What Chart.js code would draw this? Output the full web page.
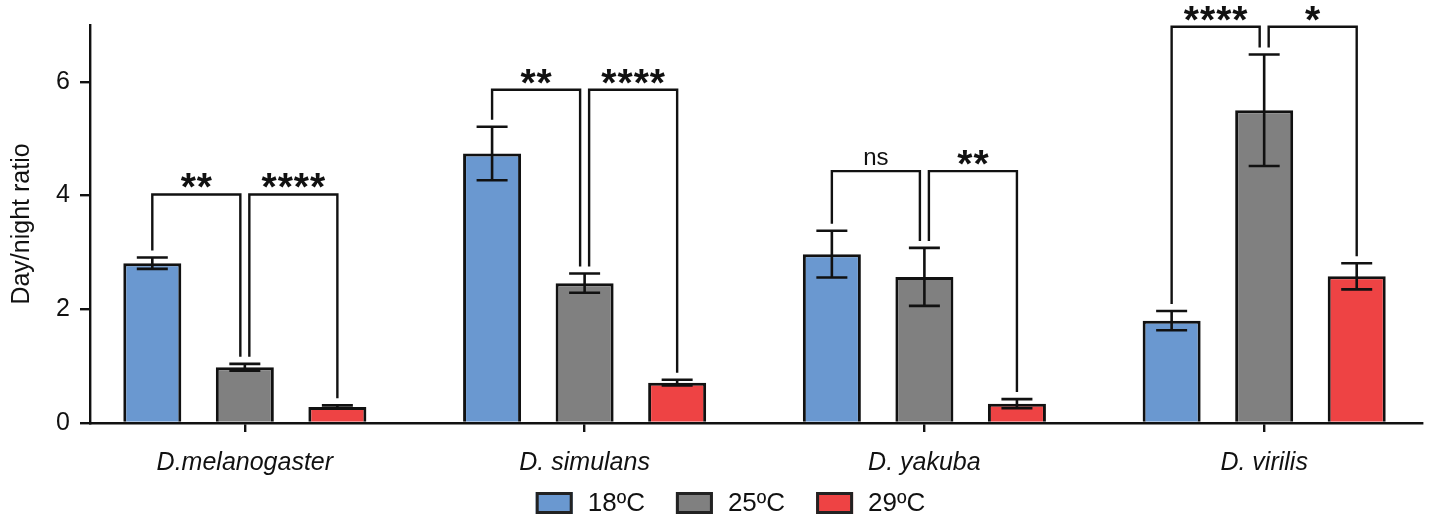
<!DOCTYPE html>
<html>
<head>
<meta charset="utf-8">
<title>Day/night ratio by species and temperature</title>
<script src="https://cdn.jsdelivr.net/npm/chart.js@4.4.1/dist/chart.umd.min.js"></script>
<style>
  html, body { margin: 0; padding: 0; background: #fff; }
  canvas { display: block; }
</style>
</head>
<body>
<canvas id="chart" width="1434" height="523"></canvas>
<script>
// Species on the x axis and rearing temperatures as series
const species = ['D.melanogaster', 'D. simulans', 'D. yakuba', 'D. virilis'];
const temperatures = ['18ºC', '25ºC', '29ºC'];

// Mean day/night activity ratio per species
const ratio18 = [2.81, 4.74, 2.97, 1.80];
const ratio25 = [0.98, 2.46, 2.57, 5.50];
const ratio29 = [0.28, 0.71, 0.34, 2.58];

// Error (± SEM) per bar
const sem18 = [0.10, 0.47, 0.41, 0.17];
const sem25 = [0.06, 0.17, 0.51, 0.98];
const sem29 = [0.03, 0.05, 0.08, 0.23];

const yTicks = [0, 2, 4, 6];

// Pairwise comparisons: species index, first/second temperature index, bracket level, significance
const compSpecies = [0, 0, 1, 1, 2, 2, 3, 3];
const compFrom    = [0, 1, 0, 1, 0, 1, 0, 1];
const compTo      = [1, 2, 1, 2, 1, 2, 1, 2];
const compLevel   = [4.02, 4.02, 5.86, 5.86, 4.43, 4.43, 6.97, 6.97];
const compLabel   = ['**', '****', '**', '****', 'ns', '**', '****', '*'];

const FONT = "'Liberation Sans', Arial, Helvetica, sans-serif";
const INK = '#111111';
const fills = ['rgb(106,152,208)', 'rgb(128,128,128)', 'rgb(238,67,68)'];

function seriesPoints(values) {
  return values.map((v, i) => ({ x: i, y: v }));
}

// Error bars with caps, drawn on top of the bars
const errorBars = {
  id: 'errorBars',
  afterDatasetsDraw(chart) {
    const ctx = chart.ctx;
    const y = chart.scales.y;
    ctx.save();
    ctx.strokeStyle = INK;
    ctx.lineWidth = 2.6;
    ctx.lineCap = 'butt';
    chart.data.datasets.forEach((ds, di) => {
      const meta = chart.getDatasetMeta(di);
      meta.data.forEach((bar, i) => {
        const v = ds.data[i].y, e = ds.sem[i];
        const top = y.getPixelForValue(v + e);
        const bot = y.getPixelForValue(v - e);
        const half = 15.5;
        ctx.beginPath();
        ctx.moveTo(bar.x, top); ctx.lineTo(bar.x, bot);
        ctx.moveTo(bar.x - half, top); ctx.lineTo(bar.x + half, top);
        ctx.moveTo(bar.x - half, bot); ctx.lineTo(bar.x + half, bot);
        ctx.stroke();
      });
    });
    ctx.restore();
  }
};

// Significance brackets between temperature pairs
const brackets = {
  id: 'brackets',
  afterDraw(chart) {
    const ctx = chart.ctx;
    const y = chart.scales.y;
    const ds = chart.data.datasets;
    ctx.save();
    ctx.strokeStyle = INK;
    ctx.fillStyle = INK;
    ctx.lineWidth = 2.4;
    ctx.lineJoin = 'miter';
    for (let k = 0; k < compLabel.length; k++) {
      const g = compSpecies[k], a = compFrom[k], b = compTo[k];
      const barA = chart.getDatasetMeta(a).data[g];
      const barB = chart.getDatasetMeta(b).data[g];
      const xA = barA.x + (a === 1 ? 4.5 : 0);
      const xB = barB.x - (b === 1 ? 4.5 : 0);
      const endA = y.getPixelForValue(ds[a].data[g].y + ds[a].sem[g]) - 7;
      const endB = y.getPixelForValue(ds[b].data[g].y + ds[b].sem[g]) - 7;
      const yl = y.getPixelForValue(compLevel[k]);
      ctx.beginPath();
      ctx.moveTo(xA, endA);
      ctx.lineTo(xA, yl);
      ctx.lineTo(xB, yl);
      ctx.lineTo(xB, endB);
      ctx.stroke();

      const cx = (xA + xB) / 2;
      const label = compLabel[k];
      ctx.textAlign = 'center';
      ctx.textBaseline = 'alphabetic';
      if (label === 'ns') {
        ctx.font = `24px ${FONT}`;
        ctx.fillText(label, cx, yl - 6.5);
      } else {
        ctx.font = `bold 39px ${FONT}`;
        const spacing = 1;
        if ('letterSpacing' in ctx) {
          ctx.letterSpacing = spacing + 'px';
          ctx.fillText(label, cx + spacing / 2, yl + 6);
          ctx.letterSpacing = '0px';
        } else {
          ctx.fillText(label, cx, yl + 6);
        }
      }
    }
    ctx.restore();
  }
};

// Bottom legend with outlined swatches
const swatchLegend = {
  id: 'swatchLegend',
  afterDraw(chart, args, opts) {
    const ctx = chart.ctx;
    const boxW = 37, boxH = 22, gapText = 15, gapItem = 31;
    ctx.save();
    ctx.font = `26px ${FONT}`;
    const items = chart.data.datasets.map(d => ({
      label: d.label, fill: d.backgroundColor, w: ctx.measureText(d.label).width
    }));
    const total = items.reduce((s, it) => s + boxW + gapText + it.w, 0) + gapItem * (items.length - 1);
    let x = opts.centerX - total / 2;
    const top = opts.top;
    items.forEach(it => {
      ctx.fillStyle = it.fill;
      ctx.fillRect(x, top, boxW, boxH);
      ctx.strokeStyle = '#222';
      ctx.lineWidth = 3;
      ctx.strokeRect(x + 1.5, top + 1.5, boxW - 3, boxH - 3);
      ctx.fillStyle = INK;
      ctx.textAlign = 'left';
      ctx.textBaseline = 'middle';
      ctx.fillText(it.label, x + boxW + gapText, top + boxH / 2 + 1);
      x += boxW + gapText + it.w + gapItem;
    });
    ctx.restore();
  }
};

new Chart(document.getElementById('chart'), {
  type: 'bar',
  data: {
    datasets: [
      { label: temperatures[0], data: seriesPoints(ratio18), sem: sem18, backgroundColor: fills[0] },
      { label: temperatures[1], data: seriesPoints(ratio25), sem: sem25, backgroundColor: fills[1] },
      { label: temperatures[2], data: seriesPoints(ratio29), sem: sem29, backgroundColor: fills[2] }
    ]
  },
  options: {
    responsive: false,
    devicePixelRatio: 1,
    animation: false,
    events: [],
    layout: { padding: { top: 21, right: 12, left: 0, bottom: 0 } },
    datasets: {
      bar: {
        categoryPercentage: 0.817,
        barPercentage: 0.627,
        borderColor: '#111111',
        borderWidth: 3
      }
    },
    scales: {
      x: {
        type: 'linear',
        min: -0.4557,
        max: 3.4645,
        offset: false,
        afterBuildTicks: s => { s.ticks = species.map((_, i) => ({ value: i })); },
        afterFit: s => { s.height = 100; },
        border: { display: true, color: INK, width: 2.4 },
        grid: { offset: false, drawOnChartArea: false, drawTicks: true, tickLength: 9, color: INK, lineWidth: 2.4 },
        ticks: {
          autoSkip: false,
          maxRotation: 0,
          padding: 16,
          color: INK,
          font: { family: FONT, size: 25, style: 'italic' },
          callback: v => species[v]
        }
      },
      y: {
        min: 0,
        max: 7,
        afterBuildTicks: s => { s.ticks = yTicks.map(v => ({ value: v })); },
        afterFit: s => { s.width = 90; },
        border: { display: true, color: INK, width: 2.4 },
        grid: { drawOnChartArea: false, drawTicks: true, tickLength: 10, color: INK, lineWidth: 2.4 },
        ticks: { padding: 10, color: INK, font: { family: FONT, size: 25 } },
        title: {
          display: true,
          text: 'Day/night ratio',
          color: INK,
          font: { family: FONT, size: 25 },
          padding: { top: 7, bottom: 0 }
        }
      }
    },
    plugins: {
      legend: { display: false },
      tooltip: { enabled: false },
      swatchLegend: { centerX: 730.5, top: 492 }
    }
  },
  plugins: [errorBars, brackets, swatchLegend]
});
</script>
</body>
</html>
